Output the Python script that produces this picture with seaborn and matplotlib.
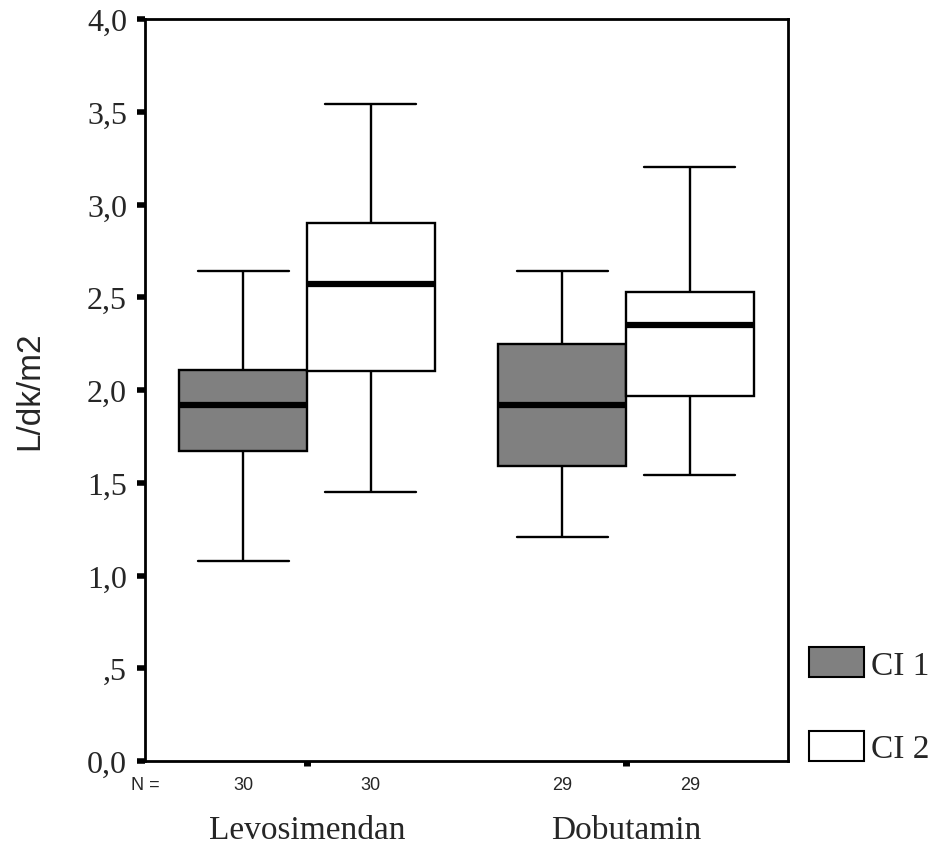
import numpy as np
import pandas as pd
import matplotlib
matplotlib.use("Agg")
import matplotlib.pyplot as plt
import seaborn as sns
from matplotlib.patches import PathPatch
from matplotlib.transforms import blended_transform_factory

# veriler (min, Q1, medyan, Q3, max)
gruplar = ["Levosimendan", "Dobutamin"]
olcumler = ["CI 1", "CI 2"]
levo_ci1 = [1.08, 1.67, 1.92, 2.11, 2.64]
levo_ci2 = [1.45, 2.10, 2.57, 2.90, 3.54]
dobu_ci1 = [1.21, 1.59, 1.92, 2.25, 2.64]
dobu_ci2 = [1.54, 1.97, 2.35, 2.53, 3.20]
n_degerleri = [30, 30, 29, 29]
y_ticks = [0.0, 0.5, 1.0, 1.5, 2.0, 2.5, 3.0, 3.5, 4.0]
y_tick_labels = ["0,0", ",5", "1,0", "1,5", "2,0", "2,5", "3,0", "3,5", "4,0"]
renkler = ["#808080", "#ffffff"]

satirlar = []
for grup, olcum, degerler in [("Levosimendan", "CI 1", levo_ci1),
                              ("Levosimendan", "CI 2", levo_ci2),
                              ("Dobutamin", "CI 1", dobu_ci1),
                              ("Dobutamin", "CI 2", dobu_ci2)]:
    for d in degerler:
        satirlar.append({"grup": grup, "olcum": olcum, "deger": d})
df = pd.DataFrame(satirlar)

sns.set_style("ticks")
plt.rcParams["font.family"] = ["Liberation Serif", "DejaVu Serif"]
sans = ["Liberation Sans", "DejaVu Sans"]

fig = plt.figure(figsize=(9.37, 8.45), dpi=100)
ax = fig.add_axes([145 / 937, 1 - 762 / 845, 643 / 937, 742 / 845])

sns.boxplot(data=df, x="grup", y="deger", hue="olcum", order=gruplar,
            hue_order=olcumler, palette=renkler, saturation=1, width=0.8,
            gap=0, whis=(0, 100), linecolor="black", linewidth=1.7,
            medianprops={"linewidth": 4.5, "color": "black"},
            capwidths=0.285, ax=ax)

ax.set_xlim(-0.508, 1.508)
ax.set_ylim(0, 4.0)
ax.set_yticks(y_ticks)
ax.set_yticklabels(y_tick_labels, fontsize=23)
ax.set_xticks([0, 1])
ax.set_xticklabels(gruplar, fontsize=24)
ax.tick_params(axis="y", length=6, width=4, pad=7, color="black")
ax.tick_params(axis="x", length=3.5, width=5, pad=35, color="black")
ax.set_xlabel("")
ax.set_ylabel("L/dk/m2", fontsize=24, family=sans, labelpad=30)
for s in ax.spines.values():
    s.set_visible(True)
    s.set_linewidth(2)
    s.set_color("black")

# N sayıları kutu merkezlerine
merkezler = []
for p in ax.patches:
    if isinstance(p, PathPatch):
        v = p.get_path().vertices
        merkezler.append((v[:, 0].min() + v[:, 0].max()) / 2)
merkezler = sorted(merkezler)
tr = blended_transform_factory(ax.transData, ax.transAxes)
for x, n in zip(merkezler, n_degerleri):
    ax.text(x, -0.032, str(n), transform=tr, ha="center", va="center",
            fontsize=13, family=sans)
ax.text(0.0, -0.032, "N =", transform=ax.transAxes, ha="center", va="center",
        fontsize=13, family=sans)

eski = ax.get_legend()
handles = eski.legend_handles
labels = [t.get_text() for t in eski.get_texts()]
for h in handles:
    h.set_edgecolor("black")
    h.set_linewidth(1.5)
ax.legend(handles, labels, loc="lower left", bbox_to_anchor=(809 / 937, 1 - 765 / 845),
          bbox_transform=fig.transFigure, frameon=False, fontsize=24,
          handlelength=1.65, handleheight=1.0, handletextpad=0.2,
          labelspacing=1.5, borderpad=0, borderaxespad=0)

fig.savefig("out.png", dpi=100)
